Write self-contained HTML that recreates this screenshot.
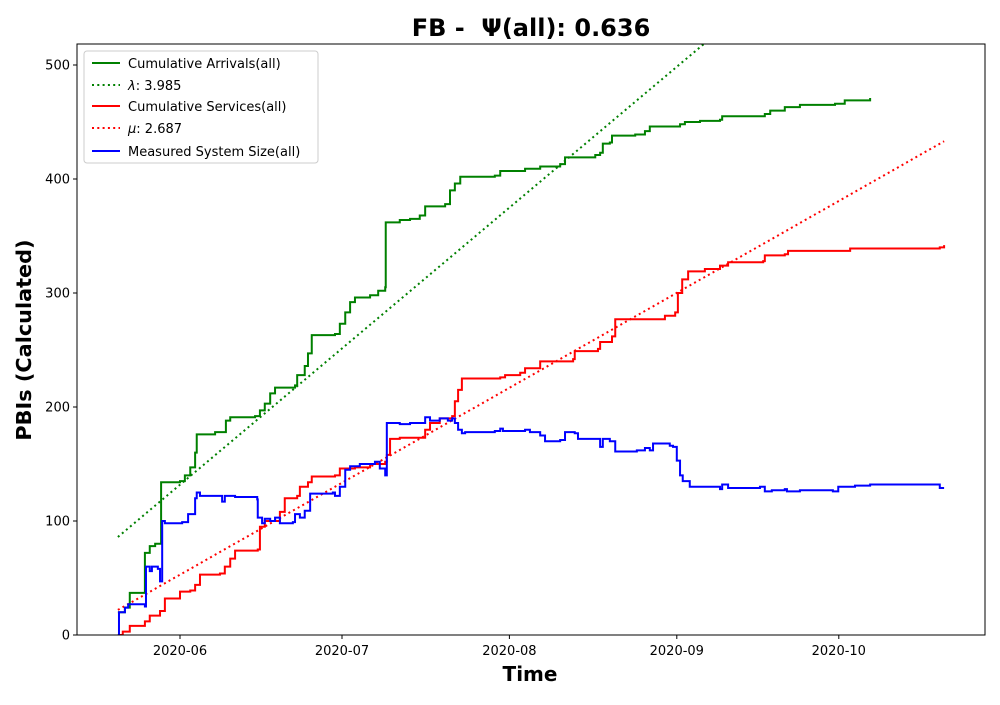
<!DOCTYPE html>
<html><head><meta charset="utf-8"><style>
body{margin:0;background:#fff}
svg text{font-family:"DejaVu Sans","Liberation Sans",sans-serif}
</style></head><body>
<svg id="c" width="1000" height="700" xmlns="http://www.w3.org/2000/svg">
<defs><clipPath id="clip"><rect x="77" y="44" width="908" height="591"/></clipPath></defs>
<rect x="0" y="0" width="1000" height="700" fill="#fff"/>
<text x="531" y="36" font-size="24" font-weight="bold" text-anchor="middle" style="white-space:pre">FB -  Ψ(all): 0.636</text>
<g id="plot" clip-path="url(#clip)"></g>
<rect x="77" y="44" width="908" height="591" fill="none" stroke="#000" stroke-width="1"/>
<g id="axes"></g>
<text x="530" y="681" font-size="20" font-weight="bold" text-anchor="middle">Time</text>
<text transform="translate(31,340) rotate(-90)" font-size="20.8" font-weight="bold" text-anchor="middle">PBIs (Calculated)</text>
<g>
<rect x="84" y="51" width="234" height="112" rx="3" fill="#fff" fill-opacity="0.8" stroke="#ccc"/>
<g><line x1="92" y1="63" x2="120" y2="63" stroke="green" stroke-width="2"/><text x="128" y="68" font-size="13">Cumulative Arrivals(all)</text></g>
<g><line x1="92" y1="85" x2="120" y2="85" stroke="green" stroke-width="2" stroke-dasharray="2,3.3"/><text x="128" y="90" font-size="13"><tspan font-style="italic">λ</tspan>: 3.985</text></g>
<g><line x1="92" y1="106" x2="120" y2="106" stroke="red" stroke-width="2"/><text x="128" y="111" font-size="13">Cumulative Services(all)</text></g>
<g><line x1="92" y1="128" x2="120" y2="128" stroke="red" stroke-width="2" stroke-dasharray="2,3.3"/><text x="128" y="133" font-size="13"><tspan font-style="italic">μ</tspan>: 2.687</text></g>
<g><line x1="92" y1="151" x2="120" y2="151" stroke="blue" stroke-width="2"/><text x="128" y="156" font-size="13">Measured System Size(all)</text></g>
</g>
</svg>
<script>
// days since 2020-06-01
const arrDays=[-11.5,-10.2,-9.3,-6.5,-6.5,-5.6,-4.6,-3.5,-3.5,0,0.9,1.9,2.8,3.1,6.5,8.3,8.5,9.3,13.9,14.8,15.7,16.7,17.6,21.3,21.7,23.1,23.7,24.4,28.7,29.6,30.6,31.5,32.4,35.2,36.7,38.0,38.1,40.7,42.6,44.4,45.4,49.1,50.0,50.9,51.9,58.3,59.3,63.9,66.7,70.4,71.3,76.9,77.8,78.3,79.6,80.0,84.3,86.1,87.0,92.6,93.5,96.3,100.0,100.4,108.3,109.3,112.0,114.8,121.3,123.1,127.8];
const arrVals=[20,24,37,37,72,78,80,81,134,135,140,147,160,176,178,178,188,191,192,197,203,212,217,219,228,236,247,263,264,273,283,292,296,298,302,305,362,364,365,368,376,378,390,396,402,403,407,409,411,413,419,421,423,431,432,438,439,442,446,448,450,451,452,455,457,460,463,465,466,469,471];
const srvDays=[-11.5,-10.6,-9.3,-6.5,-5.6,-3.7,-2.8,0,1.9,2.8,3.7,7.4,8.3,9.3,10.2,14.4,14.8,15.7,18.5,19.4,21.7,22.2,23.7,24.4,28.7,29.6,32.4,35.2,38.0,38.3,38.9,40.7,45.4,46.3,48.1,50.4,50.9,51.5,52.2,59.3,60.2,63.0,63.9,66.7,72.8,73.1,77.4,77.8,80.0,80.6,89.8,91.7,92.2,93.0,94.1,97.2,100.0,101.5,108.0,108.3,112.0,112.6,124.1,140.7,141.5];
const srvVals=[0,3,8,12,17,21,32,38,39,44,53,54,60,67,74,75,95,100,108,120,122,130,134,139,140,146,147,150,152,158,172,173,180,186,190,192,205,215,225,226,228,230,234,240,242,249,251,257,262,277,280,283,300,312,319,321,324,327,328,333,334,337,339,340,342];
const sysDays=[-11.5,-11.3,-10.2,-9.6,-6.5,-6.3,-5.6,-5.2,-4.1,-3.7,-3.3,-2.8,0.4,1.5,2.8,3.1,3.7,7.4,7.8,8.3,9.8,10.2,14.3,14.4,15.2,15.7,16.7,17.6,18.5,20.9,21.3,22.2,23.1,24.1,28.3,28.7,29.6,30.6,31.5,33.3,36.1,37.0,38.0,38.3,40.7,42.6,44.4,45.4,46.3,48.1,49.6,50.4,50.9,51.5,52.2,52.8,58.3,59.3,59.8,63.9,64.8,66.7,67.6,70.4,71.3,73.1,73.7,77.4,77.8,78.3,79.6,80.6,84.6,86.1,87.0,87.6,90.7,91.3,92.0,92.6,93.1,94.4,100.0,100.4,101.5,107.4,108.3,109.6,112.0,112.4,114.8,120.9,121.9,125.0,127.8,140.7,141.5];
const sysVals=[0,20,24,27,25,60,56,60,58,47,100,98,99,106,120,125,122,122,117,122,122,121,119,103,98,102,100,103,98,99,106,103,109,124,125,122,130,145,148,150,152,146,140,186,185,186,186,191,188,190,188,190,186,180,177,178,179,181,179,180,178,175,170,171,178,177,172,172,165,172,170,161,162,164,162,168,166,165,153,140,135,130,128,132,129,130,126,127,128,126,127,126,130,131,132,129,129];
const lamStart=-11.5, lamEnd=141.5, lamIntercept=86, lamRate=3.985;
const muStart=-11.5, muEnd=141.5, muIntercept=22, muRate=2.687;
const yTicks=[0,100,200,300,400,500];
const xTickDays=[0,30,61,92,122];
const xTickLabels=["2020-06","2020-07","2020-08","2020-09","2020-10"];

const NS="http://www.w3.org/2000/svg";
const X=d=>180+d*5.4;
const Y=v=>635-v*1.14;
const plot=document.getElementById('plot'), axes=document.getElementById('axes');
function stepPath(ds,vs){let p='M'+X(ds[0])+','+Y(vs[0]);for(let i=1;i<ds.length;i++){p+=' H'+X(ds[i])+' V'+Y(vs[i]);}return p;}
function addPath(d,color,dash,name){
  const e=document.createElementNS(NS,'path');
  e.setAttribute('d',d);e.setAttribute('fill','none');e.setAttribute('stroke',color);e.setAttribute('stroke-width','2');
  if(dash)e.setAttribute('stroke-dasharray',dash);
  
  
  plot.appendChild(e);
}
addPath('M'+X(lamStart)+','+Y(lamIntercept)+' L'+X(lamEnd)+','+Y(lamIntercept+lamRate*(lamEnd-lamStart)),'green','2,3.3','lambda-line');
addPath('M'+X(muStart)+','+Y(muIntercept)+' L'+X(muEnd)+','+Y(muIntercept+muRate*(muEnd-muStart)),'red','2,3.3','mu-line');
addPath(stepPath(arrDays,arrVals),'green',null,'arrivals-line');
addPath(stepPath(srvDays,srvVals),'red',null,'services-line');
addPath(stepPath(sysDays,sysVals),'blue',null,'system-size-line');
yTicks.forEach(v=>{
  const l=document.createElementNS(NS,'line');
  l.setAttribute('x1',73);l.setAttribute('x2',77);l.setAttribute('y1',Y(v));l.setAttribute('y2',Y(v));l.setAttribute('stroke','#000');
  
  
  axes.appendChild(l);
  const t=document.createElementNS(NS,'text');
  t.setAttribute('x',70);t.setAttribute('y',Y(v)+4.5);t.setAttribute('font-size','13');t.setAttribute('text-anchor','end');t.textContent=v;
  
  
  axes.appendChild(t);
});
xTickDays.forEach((d,i)=>{
  const l=document.createElementNS(NS,'line');
  l.setAttribute('x1',X(d));l.setAttribute('x2',X(d));l.setAttribute('y1',635);l.setAttribute('y2',639);l.setAttribute('stroke','#000');
  
  
  axes.appendChild(l);
  const t=document.createElementNS(NS,'text');
  t.setAttribute('x',X(d));t.setAttribute('y',655);t.setAttribute('font-size','13');t.setAttribute('text-anchor','middle');t.textContent=xTickLabels[i];
  
  
  axes.appendChild(t);
});
</script>
</body></html>
